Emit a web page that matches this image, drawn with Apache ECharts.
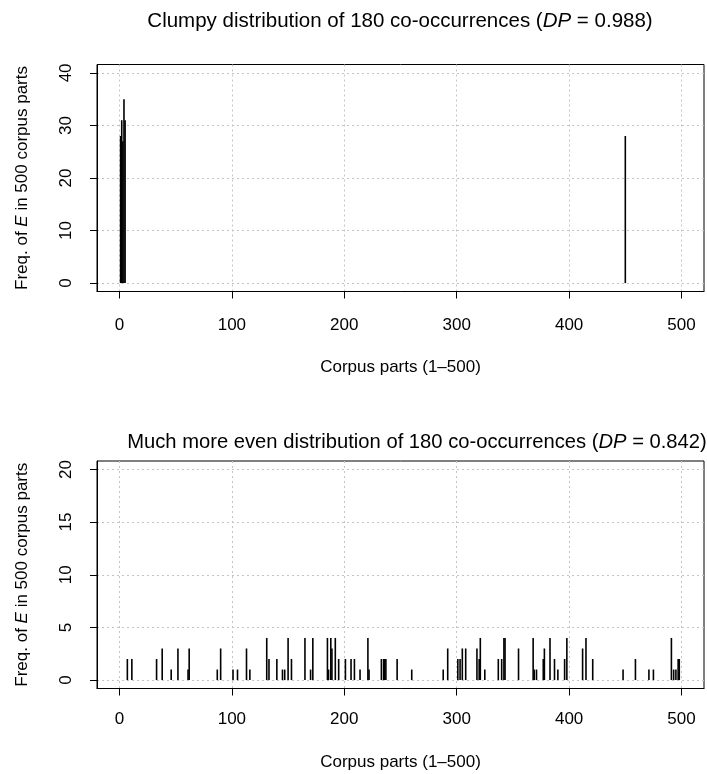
<!DOCTYPE html>
<html><head><meta charset="utf-8">
<script src="https://cdn.jsdelivr.net/npm/echarts@6/dist/echarts.min.js"></script>
<style>html,body{margin:0;padding:0;background:#fff}#c{width:707px;height:774px}</style>
</head><body><div id="c"></div>
<script>
// ---- data ----
const xTicks = [0, 100, 200, 300, 400, 500];
const topYTicks = [0, 10, 20, 30, 40];
const bottomYTicks = [0, 5, 10, 15, 20];

const topParts = [1, 2, 3, 4, 5, 450];
const topFreq  = [28, 31, 27, 35, 31, 28];

const bottomParts = [7, 11, 33, 38, 46, 52, 61, 62, 87, 90, 101, 105, 113, 116,
  131, 133, 140, 145, 147, 150, 153, 165, 170, 172, 185, 186, 188, 189, 192, 195, 201, 206, 209, 214, 221, 222, 233, 235, 236, 237, 247,
  260, 288, 292, 301, 303, 305, 308, 318, 320, 321, 325, 337, 340, 342, 343, 355, 368, 369, 371, 377, 378, 383,
  387, 390, 396, 398, 412, 415, 421, 448, 459, 471, 475, 491, 493, 495, 497, 498];
const bottomFreq = [2, 2, 2, 3, 1, 3, 1, 3, 1, 3, 1, 1, 3, 1,
  4, 2, 2, 1, 1, 4, 2, 4, 1, 4, 4, 1, 4, 3, 4, 2, 2, 2, 2, 1, 4, 1, 2, 2, 2, 2, 2,
  1, 1, 3, 2, 2, 3, 3, 3, 2, 4, 1, 2, 2, 4, 4, 3, 4, 1, 1, 2, 3, 4,
  2, 1, 2, 4, 3, 4, 2, 1, 2, 1, 1, 4, 1, 1, 2, 2];

const titles = [
  'Clumpy distribution of 180 co-occurrences ({i|DP} = 0.988)',
  'Much more even distribution of 180 co-occurrences ({i|DP} = 0.842)'
];
const xName = 'Corpus parts (1\u2013500)';
const yName = 'Freq. of {i|E} in 500 corpus parts';

// ---- chart ----
const FONT = '"Liberation Sans", Arial, Helvetica, sans-serif';
const FS = 17;

const panels = [
  { parts: topParts, freq: topFreq, yTicks: topYTicks, ymin: -1.6, ymax: 41.6,
    gridTop: 64.5, gridH: 227, titleTop: 11, titleX: 400, titleFS: 20.5, xLabMargin: 25, xNameGap: 67 },
  { parts: bottomParts, freq: bottomFreq, yTicks: bottomYTicks, ymin: -0.8, ymax: 20.8,
    gridTop: 461, gridH: 227.5, titleTop: 432, titleX: 417, titleFS: 20.2, xLabMargin: 22, xNameGap: 65 }
];

const grids = [], xAxes = [], yAxes = [], series = [], title = [];
const splitStyle = { color: '#c4c4c4', type: [2, 3], width: 1 };
const blackLine = { color: '#000', width: 1 };

panels.forEach((p, i) => {
  grids.push({ left: 97, right: 3, top: p.gridTop, height: p.gridH,
    show: true, borderColor: '#000', borderWidth: 1, backgroundColor: 'transparent' });
  title.push({ text: titles[i], left: p.titleX, textAlign: 'center', top: p.titleTop, padding: 0,
    textStyle: { fontFamily: FONT, fontSize: p.titleFS, fontWeight: 'normal', color: '#000',
      rich: { i: { fontFamily: FONT, fontSize: p.titleFS, fontStyle: 'italic', color: '#000' } } } });
  xAxes.push({ type: 'value', gridIndex: i, min: -20, max: 520,
    axisLine: { show: true, onZero: false, lineStyle: blackLine },
    axisTick: { show: true, length: 7, inside: false, customValues: xTicks, lineStyle: blackLine },
    axisLabel: { customValues: xTicks, fontFamily: FONT, fontSize: FS, color: '#000', margin: p.xLabMargin },
    splitLine: { show: true, lineStyle: splitStyle },
    name: xName, nameLocation: 'middle', nameGap: p.xNameGap,
    nameTextStyle: { fontFamily: FONT, fontSize: FS, color: '#000' } });
  yAxes.push({ type: 'value', gridIndex: i, min: p.ymin, max: p.ymax,
    axisLine: { show: true, onZero: false, lineStyle: blackLine },
    axisTick: { show: true, length: 7, inside: false, customValues: p.yTicks, lineStyle: blackLine },
    axisLabel: { customValues: p.yTicks, rotate: 90, fontFamily: FONT, fontSize: FS, color: '#000', margin: 22 },
    splitLine: { show: true, lineStyle: splitStyle },
    name: yName, nameLocation: 'middle', nameGap: 66,
    nameTextStyle: { fontFamily: FONT, fontSize: FS, color: '#000',
      rich: { i: { fontFamily: FONT, fontSize: FS, fontStyle: 'italic', color: '#000' } } } });
  series.push({ type: 'bar', xAxisIndex: i, yAxisIndex: i, barWidth: 1.6,
    data: p.parts.map((x, k) => [x, p.freq[k]]),
    itemStyle: { color: '#000' }, silent: true });
});

const chart = echarts.init(document.getElementById('c'), null, { renderer: 'canvas' });
chart.setOption({ animation: false, backgroundColor: '#fff', title, grid: grids,
  xAxis: xAxes, yAxis: yAxes, series });
</script></body></html>
